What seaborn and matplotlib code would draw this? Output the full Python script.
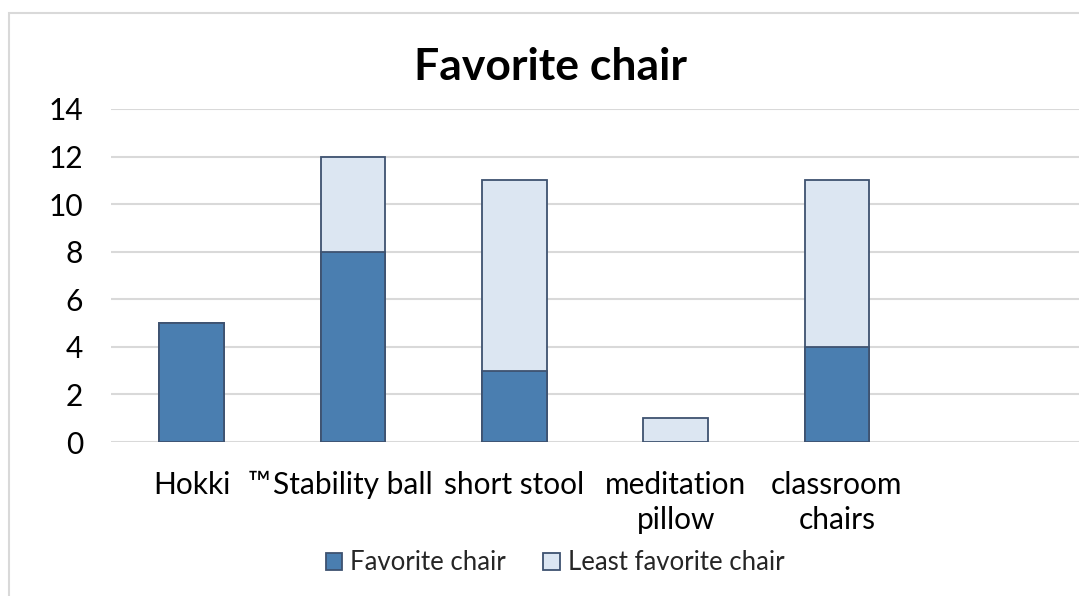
import numpy as np
import pandas as pd
import matplotlib
matplotlib.use("Agg")
import matplotlib.pyplot as plt
from matplotlib.patches import Patch, Rectangle
from matplotlib.transforms import blended_transform_factory
import seaborn as sns

categories = ["Hokki", "Stability ball", "short stool", "meditation\npillow", "classroom\nchairs", " "]
favorite = [5, 8, 3, 0, 4, 0]
least_favorite = [0, 4, 8, 1, 7, 0]
series_names = ["Favorite chair", "Least favorite chair"]
title = "Favorite chair"
yticks = [0, 2, 4, 6, 8, 10, 12, 14]

fav_color = "#4A7EB0"
least_color = "#DCE6F2"
edge_color = "#3E5270"
grid_color = "#D9D9D9"

sns.set_theme(style="white")
plt.rcParams["font.family"] = ["Lato", "DejaVu Sans"]

fig = plt.figure(figsize=(10.79, 5.96), dpi=100)
ax = fig.add_axes([111/1079, 154/596, 1 - 111/1079, 333/596])

totals = [f + l for f, l in zip(favorite, least_favorite)]
df = pd.DataFrame({"category": categories, "total": totals, "favorite": favorite})

sns.barplot(data=df, x="category", y="total", order=categories, color=least_color,
            saturation=1, width=0.40, edgecolor=edge_color, linewidth=1.3, ax=ax, zorder=3)
sns.barplot(data=df, x="category", y="favorite", order=categories, color=fav_color,
            saturation=1, width=0.40, edgecolor=edge_color, linewidth=1.3, ax=ax, zorder=4)
for p in ax.patches:
    if p.get_height() == 0:
        p.set_visible(False)

ax.set_xlim(-0.5, len(categories) - 0.5)
ax.set_ylim(0, 14)
ax.set_yticks(yticks)
ax.set_yticklabels([str(v) for v in yticks])
ax.yaxis.grid(True, color=grid_color, linewidth=1.5, zorder=0)
ax.set_axisbelow(True)
for s in ax.spines.values():
    s.set_visible(False)
ax.set_xlabel("")
ax.set_ylabel("")
ax.tick_params(axis="both", length=0, labelsize=21.5, colors="black")
ax.tick_params(axis="x", pad=21)
ax.tick_params(axis="y", pad=20)
for lbl in ax.get_xticklabels():
    lbl.set_linespacing(1.3)

trans = blended_transform_factory(ax.transData, ax.transAxes)
ax.text(0.415, -0.152, "™", transform=trans, ha="center", va="baseline", fontsize=22,
        color="black")

fig.text(551/1079, 1 - 67/596, title, ha="center", va="center", fontsize=32,
         fontweight="bold", color="black")

handles = [Patch(facecolor=fav_color, edgecolor=edge_color, linewidth=1.3),
           Patch(facecolor=least_color, edgecolor=edge_color, linewidth=1.3)]
fig.legend(handles, series_names, loc="center", bbox_to_anchor=(555/1079, 1 - 563/596),
           ncol=2, frameon=False, fontsize=18.5, handlelength=0.65, handleheight=0.65,
           handletextpad=0.3, columnspacing=1.45)

fig.patches.append(Rectangle((9/1079, -0.05), 1.2, 1.05 - 13/596, transform=fig.transFigure,
                             fill=False, edgecolor=grid_color, linewidth=1.5, zorder=0))

fig.savefig("out.png", dpi=100)
